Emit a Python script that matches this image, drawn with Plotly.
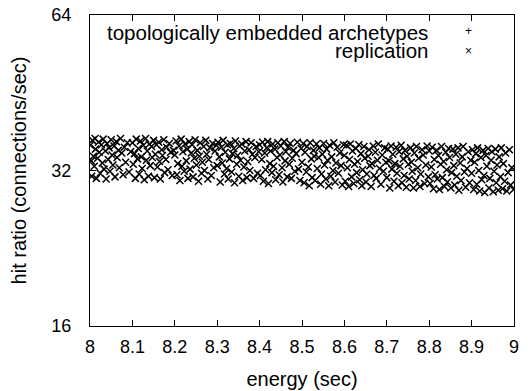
import plotly.graph_objects as go

# ---- data ----
series_names = ["topologically embedded archetypes", "replication"]

x_seg0 = [8.001, 8.003, 8.004, 8.006, 8.008, 8.010, 8.012, 8.013, 8.015, 8.018, 8.020, 8.022, 8.024, 8.027, 8.029, 8.031, 8.033, 8.036, 8.038, 8.040, 8.043, 8.045, 8.047, 8.050, 8.052, 8.054, 8.057, 8.059, 8.062, 8.064, 8.067, 8.069, 8.072, 8.075, 8.078, 8.081, 8.084, 8.088, 8.092, 8.096]
y_seg0 = [35.8, 33.4, 31.2, 36.6, 34.1, 32.6, 36.9, 35.2, 30.9, 33.8, 36.3, 34.7, 31.6, 35.9, 33.1, 36.8, 32.2, 34.9, 30.8, 36.1, 33.6, 35.4, 31.9, 36.7, 34.3, 32.8, 35.7, 31.1, 36.4, 33.9, 35.0, 32.4, 36.9, 34.6, 31.4, 35.5, 33.2, 36.2, 31.8, 34.8]
x_seg1 = [8.100, 8.102, 8.105, 8.107, 8.109, 8.112, 8.114, 8.116, 8.119, 8.121, 8.123, 8.126, 8.128, 8.131, 8.133, 8.135, 8.138, 8.140, 8.142, 8.145, 8.147, 8.150, 8.152, 8.154, 8.157, 8.159, 8.162, 8.164, 8.166, 8.169, 8.171, 8.174, 8.176, 8.179, 8.181, 8.184, 8.187, 8.190, 8.194, 8.197]
y_seg1 = [36.2, 32.9, 34.5, 30.9, 36.8, 33.7, 35.3, 31.5, 36.5, 34.0, 32.3, 35.8, 30.7, 36.9, 33.5, 34.9, 31.2, 36.0, 32.7, 35.6, 33.9, 36.6, 31.0, 34.4, 35.9, 32.5, 36.3, 33.3, 30.8, 35.1, 34.2, 36.7, 31.7, 33.6, 35.5, 32.1, 36.1, 34.7, 31.3, 35.0]
x_seg2 = [8.200, 8.203, 8.205, 8.207, 8.210, 8.212, 8.215, 8.217, 8.219, 8.222, 8.224, 8.227, 8.229, 8.231, 8.234, 8.236, 8.239, 8.241, 8.243, 8.246, 8.248, 8.251, 8.253, 8.256, 8.258, 8.260, 8.263, 8.265, 8.268, 8.270, 8.273, 8.275, 8.278, 8.280, 8.283, 8.286, 8.289, 8.292, 8.295, 8.298]
y_seg2 = [34.3, 36.5, 31.4, 33.0, 35.7, 30.6, 36.8, 32.6, 34.8, 31.9, 36.0, 33.4, 35.2, 30.9, 36.4, 32.2, 34.6, 35.9, 31.1, 33.8, 36.7, 32.8, 35.0, 30.5, 34.1, 36.2, 31.6, 33.2, 35.6, 32.0, 36.6, 34.4, 30.8, 33.6, 35.4, 31.3, 36.1, 32.4, 34.9, 35.8]
x_seg3 = [8.300, 8.302, 8.305, 8.307, 8.310, 8.312, 8.314, 8.317, 8.319, 8.322, 8.324, 8.326, 8.329, 8.331, 8.334, 8.336, 8.339, 8.341, 8.343, 8.346, 8.348, 8.351, 8.353, 8.355, 8.358, 8.360, 8.363, 8.365, 8.368, 8.370, 8.372, 8.375, 8.377, 8.380, 8.383, 8.386, 8.389, 8.392, 8.395, 8.398]
y_seg3 = [32.7, 36.3, 34.0, 30.4, 35.5, 33.1, 36.6, 31.5, 34.7, 32.3, 35.9, 30.8, 33.7, 36.1, 31.8, 34.5, 35.3, 30.3, 36.5, 32.9, 34.2, 31.2, 35.7, 33.5, 36.0, 30.6, 32.5, 34.9, 36.4, 31.0, 33.3, 35.1, 32.0, 36.2, 34.4, 30.9, 33.9, 35.6, 31.6, 34.8]
x_seg4 = [8.400, 8.402, 8.405, 8.407, 8.409, 8.412, 8.414, 8.417, 8.419, 8.421, 8.424, 8.426, 8.429, 8.431, 8.433, 8.436, 8.438, 8.441, 8.443, 8.446, 8.448, 8.450, 8.453, 8.455, 8.458, 8.460, 8.462, 8.465, 8.467, 8.470, 8.472, 8.475, 8.477, 8.480, 8.483, 8.486, 8.489, 8.492, 8.495, 8.498]
y_seg4 = [35.9, 31.3, 33.6, 36.3, 30.5, 34.6, 32.1, 35.4, 36.4, 30.2, 33.0, 34.9, 31.7, 36.0, 32.6, 35.2, 30.7, 33.9, 36.2, 31.4, 34.3, 35.7, 32.4, 30.4, 36.4, 33.4, 34.8, 31.1, 35.5, 32.9, 36.1, 30.9, 33.8, 35.0, 31.9, 34.5, 36.3, 32.2, 30.6, 35.3]
x_seg5 = [8.500, 8.503, 8.505, 8.507, 8.510, 8.512, 8.515, 8.517, 8.519, 8.522, 8.524, 8.527, 8.529, 8.531, 8.534, 8.536, 8.539, 8.541, 8.544, 8.546, 8.548, 8.551, 8.553, 8.556, 8.558, 8.560, 8.563, 8.565, 8.568, 8.570, 8.573, 8.575, 8.578, 8.580, 8.583, 8.586, 8.589, 8.592, 8.595, 8.598]
y_seg5 = [33.2, 36.1, 30.3, 34.7, 31.8, 35.6, 32.5, 29.9, 36.2, 33.7, 31.0, 35.0, 34.1, 30.6, 36.0, 32.3, 33.9, 35.4, 30.1, 31.5, 34.4, 36.1, 32.8, 30.8, 35.2, 33.5, 29.9, 35.8, 31.2, 34.0, 32.0, 36.2, 30.4, 33.1, 35.5, 31.6, 34.6, 32.7, 30.0, 35.9]
x_seg6 = [8.600, 8.602, 8.605, 8.607, 8.610, 8.612, 8.614, 8.617, 8.619, 8.622, 8.624, 8.627, 8.629, 8.631, 8.634, 8.636, 8.639, 8.641, 8.643, 8.646, 8.648, 8.651, 8.653, 8.656, 8.658, 8.660, 8.663, 8.665, 8.668, 8.670, 8.673, 8.675, 8.678, 8.680, 8.683, 8.686, 8.689, 8.692, 8.695, 8.698]
y_seg6 = [34.2, 30.5, 35.8, 32.4, 29.8, 33.6, 36.0, 31.1, 34.9, 30.2, 32.9, 35.3, 31.7, 33.3, 35.9, 30.7, 34.5, 29.9, 32.1, 35.6, 33.8, 30.4, 31.5, 34.1, 35.1, 32.7, 29.8, 33.0, 35.7, 31.3, 34.7, 30.9, 33.5, 36.0, 32.3, 30.1, 34.3, 31.9, 35.4, 33.2]
x_seg7 = [8.700, 8.702, 8.705, 8.707, 8.710, 8.712, 8.714, 8.717, 8.719, 8.722, 8.724, 8.727, 8.729, 8.731, 8.734, 8.736, 8.739, 8.741, 8.743, 8.746, 8.748, 8.751, 8.753, 8.756, 8.758, 8.760, 8.763, 8.765, 8.768, 8.770, 8.773, 8.775, 8.778, 8.780, 8.783, 8.786, 8.789, 8.792, 8.795, 8.798]
y_seg7 = [31.0, 35.2, 33.4, 29.6, 35.7, 32.2, 34.4, 30.5, 33.0, 35.5, 31.6, 29.9, 34.8, 32.6, 35.8, 30.3, 33.7, 31.3, 35.0, 29.7, 34.1, 32.9, 30.8, 35.4, 33.2, 31.9, 29.6, 34.6, 30.6, 35.6, 32.4, 33.8, 29.8, 31.5, 35.1, 34.3, 30.2, 32.8, 35.7, 31.1]
x_seg8 = [8.800, 8.802, 8.805, 8.807, 8.810, 8.812, 8.814, 8.817, 8.819, 8.822, 8.824, 8.827, 8.829, 8.831, 8.834, 8.836, 8.839, 8.841, 8.843, 8.846, 8.848, 8.851, 8.853, 8.856, 8.858, 8.860, 8.863, 8.865, 8.868, 8.870, 8.873, 8.875, 8.878, 8.880, 8.883, 8.886, 8.889, 8.892, 8.895, 8.898]
y_seg8 = [34.9, 30.2, 32.5, 35.5, 29.5, 33.6, 31.4, 35.0, 30.8, 34.2, 29.4, 32.9, 35.6, 31.0, 33.3, 29.8, 34.7, 32.1, 30.4, 35.3, 33.9, 29.6, 31.7, 35.2, 32.7, 30.0, 34.4, 31.2, 35.4, 29.3, 33.1, 30.6, 34.0, 35.6, 31.8, 29.7, 32.3, 34.8, 30.3, 33.5]
x_seg9 = [8.900, 8.902, 8.905, 8.907, 8.910, 8.912, 8.914, 8.917, 8.919, 8.922, 8.924, 8.927, 8.929, 8.931, 8.934, 8.936, 8.939, 8.941, 8.943, 8.946, 8.948, 8.951, 8.953, 8.956, 8.958, 8.960, 8.963, 8.965, 8.968, 8.970, 8.973, 8.975, 8.978, 8.980, 8.983, 8.986, 8.989, 8.992, 8.995, 8.999]
y_seg9 = [31.6, 35.1, 29.4, 33.2, 34.5, 30.1, 35.4, 32.0, 29.2, 33.9, 30.7, 35.0, 31.3, 29.0, 34.2, 32.6, 35.3, 29.6, 30.9, 33.5, 34.8, 29.1, 31.9, 35.2, 30.3, 32.8, 29.3, 34.0, 31.1, 35.4, 29.5, 33.0, 30.5, 34.6, 29.2, 31.7, 35.1, 30.0, 32.4, 29.4]

# "+" series: fully hidden beneath the "x" marks in the picture
embedded_x = []
embedded_y = []

replication_x = (x_seg0 + x_seg1 + x_seg2 + x_seg3 + x_seg4 +
                 x_seg5 + x_seg6 + x_seg7 + x_seg8 + x_seg9)
replication_y = (y_seg0 + y_seg1 + y_seg2 + y_seg3 + y_seg4 +
                 y_seg5 + y_seg6 + y_seg7 + y_seg8 + y_seg9)

x_ticks = [8, 8.1, 8.2, 8.3, 8.4, 8.5, 8.6, 8.7, 8.8, 8.9, 9]
x_tick_labels = ["8", "8.1", "8.2", "8.3", "8.4", "8.5", "8.6", "8.7", "8.8", "8.9", "9"]
y_ticks = [16, 32, 64]
y_tick_labels = ["16", "32", "64"]

FONT = "Liberation Sans, Arial, Helvetica, sans-serif"

fig = go.Figure()
fig.add_trace(go.Scatter(
    x=embedded_x, y=embedded_y, mode="markers", name=series_names[0],
    marker=dict(symbol="cross-thin", size=7, color="black",
                line=dict(color="black", width=1.5)),
    showlegend=False))
fig.add_trace(go.Scatter(
    x=replication_x, y=replication_y, mode="markers", name=series_names[1],
    marker=dict(symbol="x-thin", size=7, color="black",
                line=dict(color="black", width=1.5)),
    showlegend=False))

# gnuplot-style key: right-aligned text with sample to its right
fig.add_annotation(x=0.801, y=0.943, xref="paper", yref="paper",
                   text=series_names[0], showarrow=False,
                   xanchor="right", yanchor="middle",
                   font=dict(family=FONT, size=20.5, color="black"))
fig.add_annotation(x=0.801, y=0.885, xref="paper", yref="paper",
                   text=series_names[1], showarrow=False,
                   xanchor="right", yanchor="middle",
                   font=dict(family=FONT, size=20.5, color="black"))
fig.add_annotation(x=0.892, y=0.947, xref="paper", yref="paper",
                   text="+", showarrow=False, xanchor="center", yanchor="middle",
                   font=dict(family=FONT, size=12, color="black"))
fig.add_annotation(x=0.892, y=0.885, xref="paper", yref="paper",
                   text="×", showarrow=False, xanchor="center", yanchor="middle",
                   font=dict(family=FONT, size=12, color="black"))

# the page body has an 8px default margin, so the figure is 8px smaller
fig.update_layout(
    width=522, height=383,
    margin=dict(l=82, r=16, t=7, b=65),
    paper_bgcolor="white", plot_bgcolor="white",
    font=dict(family=FONT, size=18, color="black"),
    xaxis=dict(
        range=[8, 9], tickvals=x_ticks, ticktext=x_tick_labels,
        ticks="inside", ticklen=6, tickcolor="black", tickwidth=1,
        showline=True, linecolor="black", linewidth=1, mirror="allticks",
        showgrid=False, zeroline=False, automargin=False,
        title=dict(text="energy (sec)", standoff=16, font=dict(size=20)),
        tickfont=dict(size=18),
        ticklabelstandoff=4, ticklabeloverflow="allow",
    ),
    yaxis=dict(
        type="log", range=[1.20412, 1.80618],
        tickvals=y_ticks, ticktext=y_tick_labels,
        ticks="inside", ticklen=6, tickcolor="black", tickwidth=1,
        showline=True, linecolor="black", linewidth=1, mirror="allticks",
        showgrid=False, zeroline=False, automargin=False,
        title=dict(text="hit ratio (connections/sec)", standoff=22, font=dict(size=20)),
        tickfont=dict(size=18),
        ticklabelstandoff=14, ticklabeloverflow="allow",
    ),
)

fig.write_html("out.html")
